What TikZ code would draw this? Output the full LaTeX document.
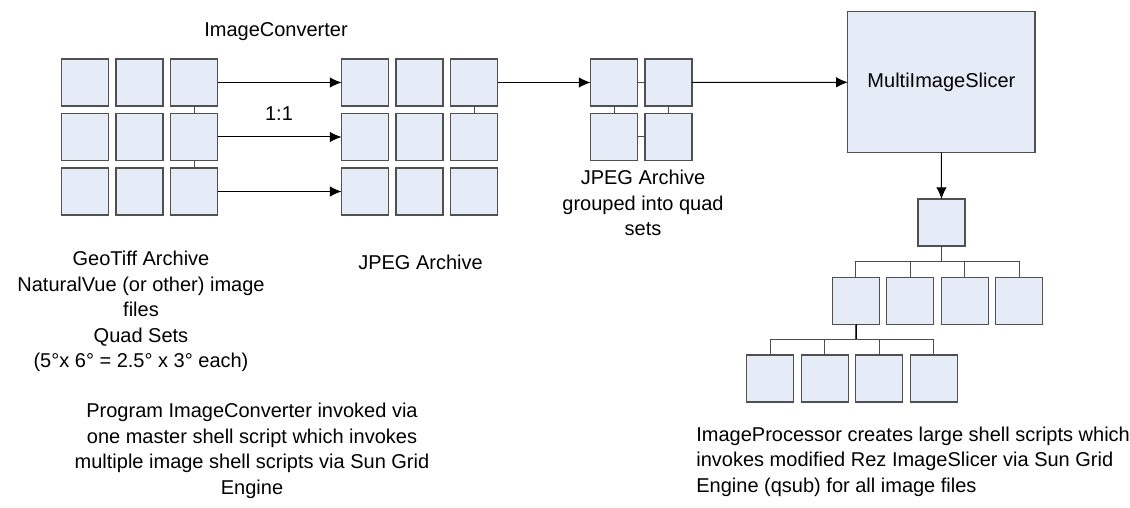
\documentclass[tikz,border=0pt]{standalone}
\usepackage{fontspec}
\setmainfont{Liberation Sans}
\usetikzlibrary{arrows.meta,positioning}
\definecolor{tilefill}{RGB}{229,236,247}
\definecolor{tileline}{RGB}{80,80,80}
\tikzset{
  tilebox/.style={
    rectangle,
    draw=tileline,
    fill=tilefill,
    line width=0.65pt,
    minimum size=23.5pt,
    inner sep=0pt,
    outer sep=0pt
  },
  slicerbox/.style={
    tilebox,
    minimum width=93.6pt,
    minimum height=70.5pt,
    font=\fontsize{10}{12.8}\selectfont
  },
  notetext/.style={
    align=center,
    inner sep=0pt,
    font=\fontsize{10}{12.8}\selectfont
  },
  tilearrow/.style={
    -{Latex[length=5.8pt,width=5.2pt]},
    line width=0.5pt,
    draw=black
  },
  tilelink/.style={
    line width=0.5pt,
    draw=black!70
  }
}

\begin{document}
\begin{tikzpicture}[x=0.5pt, y=-0.5pt, node distance=3.75pt]
\useasboundingbox (0,0) rectangle (1130,508);
% GeoTiff quad sets
\node[tilebox] (l11) at (85,82.5) {};
\node[tilebox, right=of l11] (l12) {};
\node[tilebox, right=of l12] (l13) {};
\node[tilebox, below=of l11] (l21) {};
\node[tilebox, right=of l21] (l22) {};
\node[tilebox, right=of l22] (l23) {};
\node[tilebox, below=of l21] (l31) {};
\node[tilebox, right=of l31] (l32) {};
\node[tilebox, right=of l32] (l33) {};
% JPEG archive
\node[tilebox] (m11) at (365,82.5) {};
\node[tilebox, right=of m11] (m12) {};
\node[tilebox, right=of m12] (m13) {};
\node[tilebox, below=of m11] (m21) {};
\node[tilebox, right=of m21] (m22) {};
\node[tilebox, right=of m22] (m23) {};
\node[tilebox, below=of m21] (m31) {};
\node[tilebox, right=of m31] (m32) {};
\node[tilebox, right=of m32] (m33) {};
% quad set
\node[tilebox] (q11) at (614,82.5) {};
\node[tilebox, right=of q11] (q12) {};
\node[tilebox, below=of q11] (q21) {};
\node[tilebox, right=of q21] (q22) {};
% slicer and its tree
\node[slicerbox] (slicer) at (941.4,82.2) {MultiImageSlicer};
\node[tilebox] (p0) at (941.5,222.5) {};
\node[tilebox] (p1) at (855.7,300.8) {};
\node[tilebox, right=of p1] (p2) {};
\node[tilebox, right=of p2] (p3) {};
\node[tilebox, right=of p3] (p4) {};
\node[tilebox] (s1) at (770.2,378.5) {};
\node[tilebox, right=of s1] (s2) {};
\node[tilebox, right=of s2] (s3) {};
\node[tilebox, right=of s3] (s4) {};

% labels
\node[notetext] (convname) at (276,32) {ImageConverter};
\node[notetext] (ratio) at (279,114) {1:1};
\node[notetext] (jpegname) at (420.5,262) {JPEG Archive};
\node[notetext] (quadname) at (643,203) {JPEG Archive\\grouped into quad\\sets};
\node[notetext] (geoname) at (141,311.5) {GeoTiff Archive\\NaturalVue (or other) image\\files\\Quad Sets\\(5°x 6° = 2.5° x 3° each)};
\node[notetext] (convnote) at (252,451) {Program ImageConverter invoked via\\one master shell script which invokes\\multiple image shell scripts via Sun Grid\\Engine};
\node[notetext, align=left, anchor=west] (procnote) at (696,461.5) {ImageProcessor creates large shell scripts which\\invokes modified Rez ImageSlicer via Sun Grid\\Engine (qsub) for all image files};

\draw[tilelink] (l13) -- (l23);
\draw[tilelink] (l23) -- (l33);
\draw[tilelink] (m13) -- (m23);
\draw[tilelink] (q11) -- (q12);
\draw[tilelink] (q11) -- (q21);
\draw[tilelink] (q12) -- (q22);
\draw[tilelink] (q21) -- (q22);
\draw[tilearrow] (l13) -- (m11);
\draw[tilearrow] (l23) -- (m21);
\draw[tilearrow] (l33) -- (m31);
\draw[tilearrow] (m13) -- (q11);
\draw[tilearrow] (q12) -- (slicer);
\draw[tilearrow] (slicer) -- (p0);
\draw[tilelink] (p0.south) -- ++(0,15) -| (p1.north);
\draw[tilelink] (p0.south) -- ++(0,15) -| (p2.north);
\draw[tilelink] (p0.south) -- ++(0,15) -| (p3.north);
\draw[tilelink] (p0.south) -- ++(0,15) -| (p4.north);
\draw[tilelink, draw=black, line width=0.9pt] (p1.south) -- ++(0,15.5);
\draw[tilelink] (p1.south) -- ++(0,15.5) -| (s1.north);
\draw[tilelink] (p1.south) -- ++(0,15.5) -| (s2.north);
\draw[tilelink] (p1.south) -- ++(0,15.5) -| (s3.north);
\draw[tilelink] (p1.south) -- ++(0,15.5) -| (s4.north);
\end{tikzpicture}
\end{document}
